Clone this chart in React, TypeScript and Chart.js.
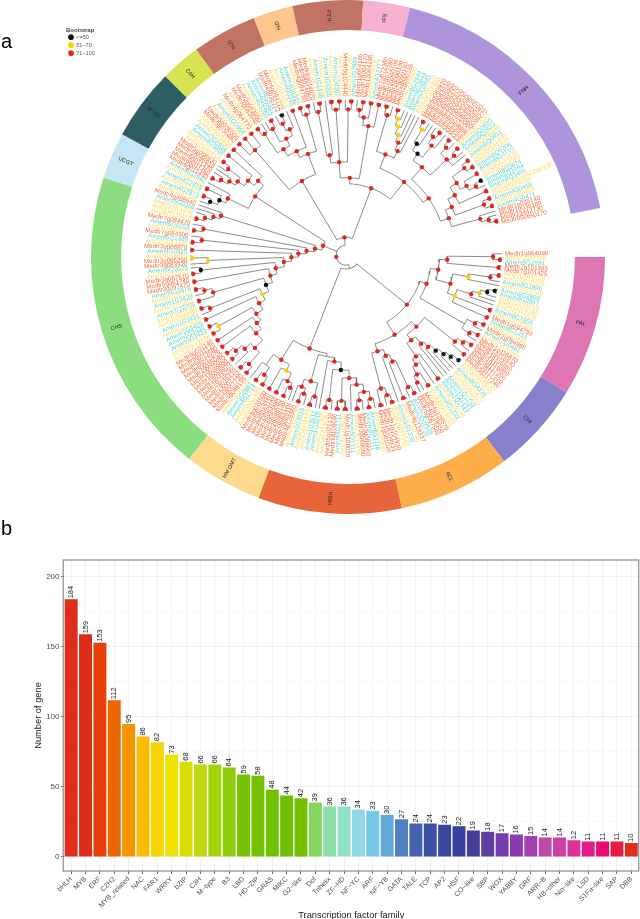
import React, { useEffect, useRef } from "react";
import { Chart, registerables } from "chart.js";

Chart.register(...registerables);

/* ---------- panel b data ---------- */
const families = ["bHLH","MYB","ERF","C2H2","MYB_related","NAC","FAR1","WRKY","bZIP","C3H","M−type","B3","LBD","HD−ZIP","GRAS","MIKC","G2−like","Dof","Trihelix","ZF−HD","NF−YC","ARF","NF−YB","GATA","TALE","TCP","AP2","HSF","CO−like","SBP","WOX","YABBY","GRF","ARR−B","HB−other","Nin−like","LSD","S1Fa−like","SAP","DBB"];
const geneCounts = [184,159,153,112,95,86,82,73,68,66,66,64,59,58,48,44,42,39,36,36,34,33,30,27,24,24,23,22,19,18,17,16,15,14,14,12,11,11,11,10];
const barColors = ["#DE2D1A","#DE2D1A","#E73E0A","#EE6600","#F59500","#FABB00","#F8D500","#EFE100","#DADD00","#BDD80E","#A4D30B","#8DCB0B","#75C400","#73C300","#70C200","#70C000","#70C000","#82D65F","#8FE0A8","#8FE2C8","#92D9E8","#76C6E5","#62A9D8","#4E80C0","#4463AF","#3C50A6","#3946A0","#36419D","#453D98","#5E3E9F","#743DAD","#8A3BB4","#A43FB2","#BC48AA","#CC3FA4","#DE3096","#E61A88","#EA0B6E","#E81A46","#DE2D1A"];
const yTicks = [0,25,50,75,100,125,150,175,200];

/* ---------- panel a ring data ---------- */
const ringLabels = ["PAL","CHI","4CL","HIDH","HM OMT","CHS","UCGT","IF7GT","C4H","I2'H","I3'H","F3'H","IFS","FNH",""];
const ringSpans = [31.8,20.8,25.3,32.5,17.8,69.8,10.5,16.2,9.1,14.7,9,15.9,10.6,65,11];
const ringColors = ["#DF76B4","#8880CC","#FDAE4B","#E8643A","#FEDB8C","#8BDD80","#C6E6F3","#2F5D64","#D7E44F","#C17464","#FDC78C","#C17464","#F6B1D1","#AE95DB","rgba(0,0,0,0)"];

/* ---------- panel a leaf names, clockwise from the top of PAL ---------- */
const namesPal = ["Medtr1g064090","Am02G017990","Amem8G2994","Medtr7g101395","Medtr7g101425","Am02G016230","Am02G016605","Amem8G2896","Am05G016249","Amem8G2898","Amem8G2897","Am02G016210","Am02G016190","Am02G016520","Amem8G2859","Am05G018320","Medtr1g094780","Amem8G1453","Am05G012490","Medtr2g094960","Amem7G0461","Am02G020540","Medtr1g116870","Medtr1g116840"];
const namesChi = ["Medtr1g116880","Medtr1g116890","Medtr3g117200","Medtr3g117220","Medtr3g117240","Am02G008830","Am06G011570","Amem8G4136","Am05G020470","Am03G009510","Amem1Q1753","Amem1Q1741","Amem1Q1747","Am04G016540","Amem4G1232","Am03G012510","Am06G017540","Medtr4g128570","Medtr4g128550","Medtr5g067540","Amem3G0438","Amem3G0720","Medtr4g128337","Am01G010740","Amem1G1330","Am06G034410","Am05G027270","Medtr1g104930","Medtr1g104933","Medtr1g081020"];
const namesHidh = ["Am05G026840","Amem8G1118","Amem8G1111","Medtr3g088660","Medtr3g088680","Am06G031470","Amem5Q1311","Medtr1g108020","Am04G018830","Amem4G2711","Medtr1g108040","Medtr5g075130","Am04G014090","Am04G017810","Amem1G3510","Amem1G3512","Am05G028110","Am04G016210","Amem1G3516","Am05G028130","Medtr4g128360","Medtr2g089110","Medtr2g089120","Medtr2g089130","Medtr4g063080","Medtr4g063100","Medtr4g063110","Medtr8g076490","Medtr8g076500","Am05G026710","Am04G027140","Amem4G2714","Amem1G0881","Am05G031220"];
const namesChs = ["Medtr4g088195","Medtr5g007730","Medtr5g007710","Medtr7g016230","Medtr7g016250","Medtr1g099970","Medtr1g099990","Medtr2g035020","Medtr2g035040","Medtr6g012670","Medtr6g012690","Medtr8g031120","Medtr8g031140","Am04G014620","Am04G015130","Amem1G3433","Amem1G3430","Amem1G3429","Am04G015640","Amem1G3431","Am02G009090","Am04G009060","Amem1Q2705","Am04G015801","Amem1G3428","Am06G025750","Amem4G3878","Medtr2g097470","Medtr5g061740","Medtr3g087810","Am01G018890","Amem5Q2029","Medtr3g083920","Medtr3g086290","Am05G036090","Amem4G0325","Medtr3g086870","Am02G014100","Amem5Q1489","Medtr7g084300","Am03G002470","Amem6G0253","Medtr7g084470","Am06G020110","Am08G010170","Am06G021350","Amem5G0268","Medtr4g488640"];
const namesUgt = ["Am05G021340","Amem4G2873","Am05G021470","Amem4G2878","Am05G023110","Amem4G2840","Medtr6g011430","Medtr6g011450","Medtr6g011470","Medtr5g096910","Medtr5g096930","Am06G011140","Am07G010270","Amem4G0988","Amem2G0934","Am05G018880","Am01G024160"];
const namesC4h = ["Medtr5g036480","Medtr5g036500","Am03G015240","Amem1G0864","Am05G014460","Medtr4g064770","Am03G007160","Medtr3g083540","Medtr2g043050","Am06G012680","Amem4G3350","Amem4G0353","Amem4G0357","Medtr4g035772","Medtr4g094772","Am04G012860","Am07G011470","Amem4G0335","Amem4G0332","Am05G012430","Medtr4g094750","Medtr8g014060"];
const namesF3h = ["Medtr8g014070","Am01G001700","Amem1G1445","Am06G013250","Amem1G0305","Am06G013280","Amem1G0307","Am07G003110","Medtr5g104440","Am02G010760","Amem1G2989"];
const namesIfs = ["Medtr1g064165","Medtr1g064170","Medtr1g064195","Am05G035180","Amem4G2772","Medtr7g072360","Medtr7g072380"];
const namesFnh = ["Medtr2g090105","Medtr2g090130","Medtr2g090150","Medtr2g090165","Am04G009500","Amem8G2644","Amem8G2643","Amem2G0981","Am07G001320","Am07G001360","Medtr5g083910","Medtr5g083930","Medtr5g083950","Medtr4g095570","Medtr4g095600","Medtr4g095630","Medtr1g085580","Medtr1g085610","Medtr3g098210","Medtr3g098240","Medtr3g098270","Am05G013540","Amem6Q0820","Amem6Q2633","Am05G006640","Amem6Q0931","Am03G011400","Am03G011420","Amem8Q0706","Amem8G3710","Am03G011630","Am03G011540","Amem8Q3674","Amem8Q3594","Amem8Q3495","Am01G000106G090190","Am03G024780","Amem4G0469","Am03G004800","Amem4G0471","Medtr1g035140","Medtr1g035180","Medtr1g442730","Medtr0026s0170"];
const leafNames = [...namesPal,...namesChi,...namesHidh,...namesChs,...namesUgt,...namesC4h,...namesF3h,...namesIfs,...namesFnh];

/* ---------- panel a tree: "*" is a leaf, "(...)r" a node at branch depth r, then y / k / n for its bootstrap class ---------- */
const treePal = "(((*(**)155)148(**)154)102((((**)155*)147*)125y(((((**)154k*)147k*)140y*)132(**)155(**)155)117y)109)94";
const treePalB = "(((**)155*)147((**)155*)147)138n";
const treeChi1 = "(((**)155*)147(**)155)140";
const treeChi2 = "((((((**)155k*)147k*)140k*)132k*)124*)117";
const treeChi3 = "((**)155(*((**)155(**)147)140)131)124";
const tree4cl1 = "((((**)155*)147(**)155)117*)109";
const tree4cl2 = "(((**)155*)147(**)155)139";
const treeHidh1 = "(((((*(**)155)147(*(**)155)147)139*)131((**)155(**)155)147)124(*(**)155)147)116k";
const treeHidh2 = "((*(**)155)146((*(**)155)146*)140)132";
const treeOmt1 = "(((*(**)155)145(**)155)140(**)155)131y";
const treeOmt2 = "(((**)155(**)155)146*)137n";
const treeChsCore = "(((**)155(**)155)147(*((**)155(**)155)147)139)131";
const treeUgt1 = "(((*(**)155)147k(**)155)139k*)132";
const treeUgt2 = "((((((**)155*)147*)139(*(**)155)147)132(**)155)124(**)155)116";
const treeC4h1 = "((**)155(**)155(**)155)140";
const treeC4h2 = "((((**)155*)147((*(**)155)147((*(**)155k)147*)139)132)124(**)155)116";
const treeC4h3 = "((**)155(**)155)147";
const treeF3h = "(((*(**)155)147*)102((**)155(**)155)147(*(**)155)147)94";
const treeIfs = "(((*(**)155)147(**)155)140(**)155)132";
const treeFnh1 = "(((**)155*)147((((((**)155*)147y*)140y*)132y*)125*)117)109";
const treeFnh2 = "(((((**)155*)148y*)133k((*(**)155)148*)140)125k(((**)155*)148((**)155*)148*)140)117";
const treeFnh3 = "((((((**)155(**)155)148((**)155((**)155k*)148)140)133(**)155)125((**)155(**)155)148)117(*(*(**)155)148)140)110";

function chsLadder(): string {
  const rungs: [string, string][] = [
    ["(**)155", "120"],
    ["(**)155", "113"],
    ["((**)155(**)155)147y", "108"],
    ["(**)155", "100"],
    ["(*(**)155)147", "93y"],
    ["((**)155(*(**)155)147)139", "86k"],
    ["(**)155", "79"],
    ["((**)155*)147k", "72"],
    ["(*(**)155y)139y", "63"],
    ["(**)155", "55"],
    ["((**)155*)146", "48"],
    ["((**)155*)146", "40"],
    ["((((**)155*)147*)139*)132", "32"],
  ];
  let s = treeChsCore;
  for (const [side, r] of rungs) s = `(${s}${side})${r}`;
  return s;
}

const treeSource = () => {
  const pal = `(${treePal}${treePalB})86`;
  const q = `((${treeChi1}(${treeChi2}${treeChi3})108)101(${tree4cl1}${tree4cl2})102)94`;
  const x = `(${pal}${q})79`;
  const y = `(((${treeHidh1}*)108${treeHidh2})104n(${treeOmt1}${treeOmt2})124)101`;
  const xy = `(${x}${y})14n`;
  const r25 = `(${chsLadder()}(${treeUgt1}${treeUgt2})109)25`;
  const v = `(${treeC4h1}(${treeC4h2}${treeC4h3})109)87`;
  const w = `((${treeF3h}${treeIfs})78(${treeFnh1}(${treeFnh2}${treeFnh3})101)94)72`;
  const a18 = `(${v}${w})18`;
  return `(${xy}${r25}${a18})10`;
};

const TIP = 157;
const START = 89.5;
const END = 438;

type TNode = { r: number; a: number; flag: string; kids: TNode[]; name?: string };

function parseTree(src: string, names: string[]): TNode {
  let i = 0;
  let leaf = 0;
  const step = (END - START) / (names.length - 1);
  const read = (): TNode => {
    if (src[i] === "*") {
      i++;
      const idx = leaf++;
      return { r: TIP, a: START + idx * step, flag: "", kids: [], name: names[idx] ?? "" };
    }
    i++; // "("
    const kids: TNode[] = [];
    while (i < src.length && src[i] !== ")") kids.push(read());
    i++; // ")"
    let num = "";
    while (i < src.length && /[0-9]/.test(src[i])) num += src[i++];
    let flag = "";
    if (i < src.length && /[ykn]/.test(src[i])) flag = src[i++];
    return { r: Number(num), a: (kids[0].a + kids[kids.length - 1].a) / 2, flag, kids };
  };
  return read();
}

const polar = (r: number, deg: number) => {
  const t = (deg * Math.PI) / 180;
  return { x: r * Math.sin(t), y: r * Math.cos(t) };
};

function App() {
  const ringRef = useRef<HTMLCanvasElement>(null);
  const treeRef = useRef<HTMLCanvasElement>(null);
  const barRef = useRef<HTMLCanvasElement>(null);

  useEffect(() => {
    /* ring */
    const ringText = {
      id: "ringText",
      afterDatasetsDraw(chart: any) {
        const ctx = chart.ctx;
        chart.getDatasetMeta(0).data.forEach((arc: any, i: number) => {
          if (!ringLabels[i]) return;
          const p = arc.getProps(["x", "y", "startAngle", "endAngle", "innerRadius", "outerRadius"], true);
          const mid = (p.startAngle + p.endAngle) / 2;
          const r = (p.innerRadius + p.outerRadius) / 2;
          ctx.save();
          ctx.translate(p.x + r * Math.cos(mid), p.y + r * Math.sin(mid));
          const flip = Math.cos(mid) < 0;
          ctx.rotate(flip ? mid + Math.PI : mid);
          ctx.font = "5.5px 'Liberation Sans'";
          ctx.fillStyle = "#222";
          ctx.textAlign = "center";
          ctx.textBaseline = "middle";
          ctx.fillText(ringLabels[i], 0, 0);
          ctx.restore();
        });
      },
    };
    const ring = new Chart(ringRef.current!, {
      type: "doughnut",
      data: {
        labels: ringLabels,
        datasets: [{ data: ringSpans, backgroundColor: ringColors, borderWidth: 0 }],
      },
      options: {
        responsive: false,
        animation: false,
        rotation: 90,
        cutout: "88.3%",
        layout: { padding: 0 },
        plugins: { legend: { display: false }, tooltip: { enabled: false } },
      },
      plugins: [ringText],
    } as any);

    /* tree */
    const root = parseTree(treeSource(), leafNames);
    const branches: any[] = [];
    const red: any[] = [];
    const yellow: any[] = [];
    const black: any[] = [];
    const leaves: TNode[] = [];
    const gap = { x: NaN, y: NaN };
    const walk = (n: TNode) => {
      if (!n.kids.length) {
        leaves.push(n);
        return;
      }
      if (n.flag === "y") yellow.push(polar(n.r, n.a));
      else if (n.flag === "k") black.push(polar(n.r, n.a));
      else if (n.flag !== "n") red.push(polar(n.r, n.a));
      const a0 = n.kids[0].a;
      const a1 = n.kids[n.kids.length - 1].a;
      const steps = Math.max(2, Math.ceil((a1 - a0) / 2));
      for (let s = 0; s <= steps; s++) branches.push(polar(n.r, a0 + ((a1 - a0) * s) / steps));
      branches.push(gap);
      n.kids.forEach((k) => {
        branches.push(polar(n.r, k.a), polar(k.r, k.a), gap);
        walk(k);
      });
    };
    walk(root);

    const leafText = {
      id: "leafText",
      afterDatasetsDraw(chart: any) {
        const ctx = chart.ctx;
        const sx = chart.scales.x;
        const sy = chart.scales.y;
        ctx.save();
        ctx.font = "6.2px 'Liberation Sans'";
        ctx.textBaseline = "middle";
        leaves.forEach((lf) => {
          const p = polar(160, lf.a);
          const t = ((lf.a - 90) * Math.PI) / 180;
          const right = Math.sin((lf.a * Math.PI) / 180) >= 0;
          ctx.save();
          ctx.translate(sx.getPixelForValue(p.x), sy.getPixelForValue(p.y));
          ctx.rotate(right ? t : t + Math.PI);
          ctx.textAlign = right ? "left" : "right";
          ctx.fillStyle = lf.name!.startsWith("Medtr") ? "#F26B3A" : lf.name!.startsWith("Amem") ? "#5FD3C9" : "#FBD862";
          ctx.fillText(lf.name, 0, 0);
          ctx.restore();
        });
        ctx.restore();
      },
    };

    const tree = new Chart(treeRef.current!, {
      type: "scatter",
      data: {
        datasets: [
          { label: "<=50", data: black, backgroundColor: "#111111", borderWidth: 0, pointStyle: "circle", pointRadius: 2.2, order: 1 },
          { label: "51−70", data: yellow, backgroundColor: "#FFD000", borderWidth: 0, pointStyle: "circle", pointRadius: 2.2, order: 1 },
          { label: "71−100", data: red, backgroundColor: "#E3261C", borderWidth: 0, pointStyle: "circle", pointRadius: 2.2, order: 1 },
          { label: "branches", data: branches, showLine: true, spanGaps: false, borderColor: "#666666", borderWidth: 0.75, pointRadius: 0, order: 2 },
        ],
      },
      options: {
        responsive: false,
        animation: false,
        layout: { padding: { left: 66, top: 25, right: 0, bottom: 0 } },
        scales: {
          x: { type: "linear", display: false, min: -282, max: 292 },
          y: { type: "linear", display: false, min: -263, max: 232 },
        },
        plugins: {
          tooltip: { enabled: false },
          legend: {
            position: "chartArea",
            align: "start",
            title: { display: true, text: "Bootstrap", position: "start", color: "#444444", font: { size: 6, weight: "bold", family: "'Liberation Sans'" }, padding: { top: 27, bottom: -2.3 } },
            labels: {
              usePointStyle: true,
              boxWidth: 5,
              boxHeight: 4,
              padding: 2.5,
              color: "#555555",
              font: { size: 5.5, family: "'Liberation Sans'" },
              filter: (item: any) => item.text !== "branches",
            },
          },
        },
      },
      plugins: [leafText],
    } as any);

    /* bars */
    const barExtras = {
      id: "barExtras",
      afterDatasetsDraw(chart: any) {
        const ctx = chart.ctx;
        chart.getDatasetMeta(0).data.forEach((bar: any, i: number) => {
          ctx.save();
          ctx.translate(bar.x, bar.y - 1);
          ctx.rotate(-Math.PI / 2);
          ctx.font = "7.5px 'Liberation Sans'";
          ctx.fillStyle = "#222222";
          ctx.textAlign = "left";
          ctx.textBaseline = "middle";
          ctx.fillText(String(geneCounts[i]), 0, 0);
          ctx.restore();
        });
      },
      afterDraw(chart: any) {
        const { left, right, top, bottom } = chart.chartArea;
        const ctx = chart.ctx;
        ctx.save();
        ctx.strokeStyle = "#8a8a8a";
        ctx.lineWidth = 1.2;
        ctx.strokeRect(left - 0.8, top, right - left + 1, bottom - top);
        ctx.restore();
      },
    };
    const bars = new Chart(barRef.current!, {
      type: "bar",
      data: {
        labels: families,
        datasets: [{ label: "Number of gene", data: geneCounts, backgroundColor: barColors, barPercentage: 0.9, categoryPercentage: 1 }],
      },
      options: {
        responsive: false,
        animation: false,
        layout: { padding: { left: 0, top: 20, right: 1.5, bottom: 0 } },
        plugins: { legend: { display: false }, tooltip: { enabled: false } },
        scales: {
          x: {
            afterFit: (s: any) => { s.height = 48; },
            grid: { offset: false, color: "#efefef", lineWidth: 0.8, tickColor: "#444444", tickLength: 3, tickWidth: 0.8 },
            border: { display: false },
            ticks: { autoSkip: false, maxRotation: 45, minRotation: 45, padding: 1, color: "#4d4d4d", font: { size: 7, family: "'Liberation Sans'" } },
            title: { display: true, text: "Transcription factor family", color: "#1a1a1a", font: { size: 9.3, family: "'Liberation Sans'" }, padding: { top: 0, bottom: -2 } },
          },
          y: {
            min: -10,
            max: 212.1,
            afterFit: (s: any) => { s.width = 64; },
            afterBuildTicks: (s: any) => { s.ticks = yTicks.map((value) => ({ value })); },
            grid: {
              color: (c: any) => (c.tick && c.tick.value % 50 === 0 ? "#eeeeee" : "#f6f6f6"),
              lineWidth: 0.8,
              tickColor: (c: any) => (c.tick && c.tick.value % 50 === 0 ? "#444444" : "rgba(0,0,0,0)"),
              tickLength: 3,
              tickWidth: 0.8,
            },
            border: { display: false },
            ticks: {
              padding: 1.5,
              color: "#4d4d4d",
              font: { size: 8, family: "'Liberation Sans'" },
              callback: (v: any) => (v % 50 === 0 ? String(v) : ""),
            },
            title: { display: true, text: "Number of gene", color: "#1a1a1a", font: { size: 9.3, family: "'Liberation Sans'" }, padding: { top: 33, bottom: 0 } },
          },
        },
      },
      plugins: [barExtras],
    } as any);

    return () => {
      ring.destroy();
      tree.destroy();
      bars.destroy();
    };
  }, []);

  const abs = (left: number, top: number): React.CSSProperties => ({ position: "absolute", left, top, display: "block" });
  const letter = (top: number): React.CSSProperties => ({ position: "absolute", left: 1, top, font: "20px 'Liberation Sans'", color: "#000", lineHeight: "20px" });

  return (
    <div style={{ position: "absolute", left: 0, top: 0, width: 640, height: 919, overflow: "hidden", background: "#fff" }}>
      <canvas ref={ringRef} width={514} height={514} style={abs(91, 0)} />
      <canvas ref={treeRef} width={640} height={520} style={abs(0, 0)} />
      <canvas ref={barRef} width={640} height={379} style={abs(0, 540)} />
      <span style={letter(31)}>a</span>
      <span style={letter(518)}>b</span>
    </div>
  );
}

export default App;
